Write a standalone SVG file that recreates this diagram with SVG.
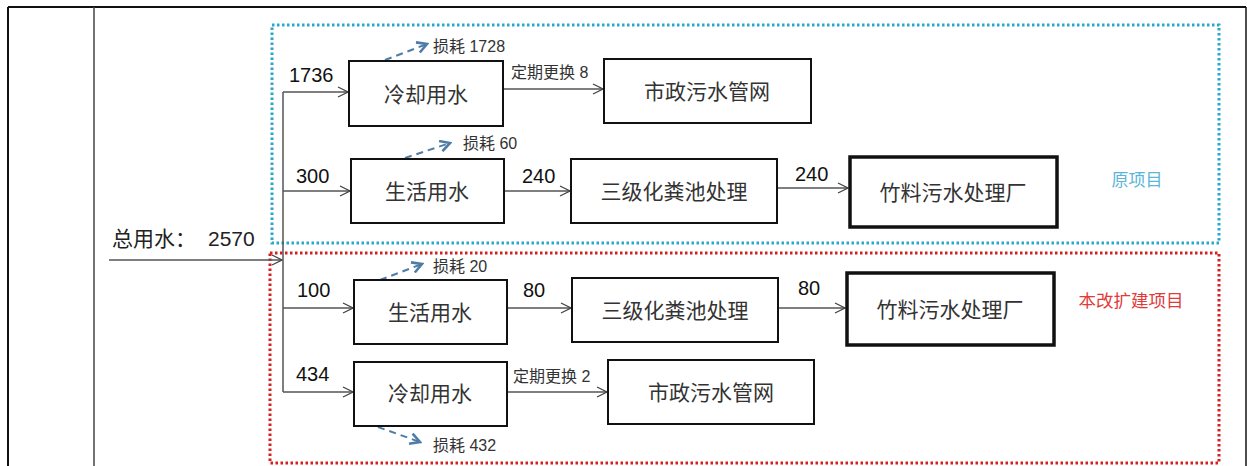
<svg xmlns="http://www.w3.org/2000/svg" width="1247" height="466" viewBox="0 0 1247 466">
<style>
.box{fill:#fff;stroke:#111;stroke-width:2}
.thick{fill:#fff;stroke:#111;stroke-width:3.5}
.t{font-family:"Liberation Sans","Noto Sans CJK SC",sans-serif;font-size:21px;fill:#333;text-anchor:middle;dominant-baseline:central}
.n{font-family:"Liberation Sans","Noto Sans CJK SC",sans-serif;font-size:20px;fill:#111}
.s{font-family:"Liberation Sans","Noto Sans CJK SC",sans-serif;font-size:16px;fill:#333}
.line{fill:none;stroke:#555;stroke-width:1.5}
.loss{fill:none;stroke:#4f7ca6;stroke-width:2;stroke-dasharray:7,5}
</style>
<defs>
<marker id="ar" viewBox="0 0 12 12" refX="11" refY="6" markerWidth="12" markerHeight="12" markerUnits="userSpaceOnUse" orient="auto">
<path d="M1,1 L11,6 L1,11" fill="none" stroke="#444" stroke-width="1.3"/>
</marker>
<marker id="la" viewBox="0 0 12 12" refX="10" refY="6" markerWidth="13" markerHeight="13" markerUnits="userSpaceOnUse" orient="auto">
<path d="M1,1 L10,6 L1,11" fill="none" stroke="#4f7ca6" stroke-width="2.4"/>
</marker>
</defs>
<rect width="1247" height="466" fill="#fff"/>
<g id="table">
<line x1="8" y1="7" x2="1246" y2="7" stroke="#111" stroke-width="2"/>
<line x1="8" y1="7" x2="8" y2="466" stroke="#111" stroke-width="2"/>
<line x1="1246" y1="7" x2="1246" y2="466" stroke="#111" stroke-width="1.5"/>
<line x1="94" y1="7" x2="94" y2="466" stroke="#444" stroke-width="1.5"/>
</g>
<g id="region-original">
<rect x="272" y="25" width="947" height="218" fill="none" stroke="#29a7d0" stroke-width="3" stroke-dasharray="2.5,2.5"/>
<text x="1137" y="180" font-family="Liberation Serif,'Noto Sans CJK SC',serif" font-size="17" fill="#5bb5d8" text-anchor="middle" dominant-baseline="central">原项目</text>
</g>
<g id="region-expansion">
<rect x="270" y="253" width="949" height="210" fill="none" stroke="#d42020" stroke-width="3" stroke-dasharray="2.5,2.5"/>
<text x="1131" y="301" font-family="Liberation Serif,'Noto Sans CJK SC',serif" font-size="17.5" fill="#e03a3a" text-anchor="middle" dominant-baseline="central">本改扩建项目</text>
</g>
<g id="connectors">
<line class="line" x1="109" y1="260" x2="282" y2="260" marker-end="url(#ar)"/>
<line class="line" x1="283" y1="92" x2="283" y2="392"/>
<line class="line" x1="283" y1="92" x2="348" y2="92" marker-end="url(#ar)"/>
<line class="line" x1="283" y1="191" x2="350" y2="191" marker-end="url(#ar)"/>
<line class="line" x1="283" y1="308" x2="353" y2="308" marker-end="url(#ar)"/>
<line class="line" x1="283" y1="392" x2="353" y2="392" marker-end="url(#ar)"/>
<line class="line" x1="503" y1="89" x2="603" y2="89" marker-end="url(#ar)"/>
<line class="line" x1="504" y1="191" x2="570" y2="191" marker-end="url(#ar)"/>
<line class="line" x1="777" y1="188" x2="848" y2="188" marker-end="url(#ar)"/>
<line class="line" x1="507" y1="308" x2="571" y2="308" marker-end="url(#ar)"/>
<line class="line" x1="778" y1="308" x2="845" y2="308" marker-end="url(#ar)"/>
<line class="line" x1="507" y1="392" x2="607" y2="392" marker-end="url(#ar)"/>
<path class="loss" d="M385,60 L427,44" marker-end="url(#la)"/>
<path class="loss" d="M405,158 L450,143" marker-end="url(#la)"/>
<path class="loss" d="M380,280 L422,264" marker-end="url(#la)"/>
<path class="loss" d="M378,427 L420,442" marker-end="url(#la)"/>
<text class="n" x="289" y="82">1736</text>
<text class="n" x="296" y="183">300</text>
<text class="n" x="297" y="297">100</text>
<text class="n" x="296" y="381">434</text>
<text class="n" x="522" y="183">240</text>
<text class="n" x="795" y="181">240</text>
<text class="n" x="523" y="297">80</text>
<text class="n" x="798" y="295">80</text>
<text class="s" x="511" y="78">定期更换 8</text>
<text class="s" x="513" y="382">定期更换 2</text>
<text class="s" x="433" y="52">损耗 1728</text>
<text class="s" x="463" y="149">损耗 60</text>
<text class="s" x="433" y="272">损耗 20</text>
<text class="s" x="433" y="451">损耗 432</text>
<text x="112" y="246" font-family="Liberation Sans,'Noto Sans CJK SC',sans-serif" font-size="21" fill="#222">总用水：<tspan x="208">2570</tspan></text>
</g>
<g id="n-cool1"><rect class="box" x="349" y="61" width="154" height="65"/><text class="t" x="426" y="94">冷却用水</text></g>
<g id="n-muni1"><rect class="box" x="604" y="59" width="207" height="64"/><text class="t" x="707" y="91">市政污水管网</text></g>
<g id="n-life1"><rect class="box" x="351" y="159" width="153" height="64"/><text class="t" x="427" y="191">生活用水</text></g>
<g id="n-septic1"><rect class="box" x="571" y="159" width="206" height="64"/><text class="t" x="674" y="191">三级化粪池处理</text></g>
<g id="n-plant1"><rect class="thick" x="850" y="157" width="207" height="70"/><text class="t" x="953" y="192">竹料污水处理厂</text></g>
<g id="n-life2"><rect class="box" x="354" y="280" width="153" height="64"/><text class="t" x="430" y="312">生活用水</text></g>
<g id="n-septic2"><rect class="box" x="572" y="278" width="206" height="64"/><text class="t" x="675" y="310">三级化粪池处理</text></g>
<g id="n-plant2"><rect class="thick" x="847" y="273" width="207" height="72"/><text class="t" x="950" y="309">竹料污水处理厂</text></g>
<g id="n-cool2"><rect class="box" x="354" y="362" width="153" height="64"/><text class="t" x="430" y="393">冷却用水</text></g>
<g id="n-muni2"><rect class="box" x="608" y="360" width="206" height="64"/><text class="t" x="711" y="392">市政污水管网</text></g>
</svg>
